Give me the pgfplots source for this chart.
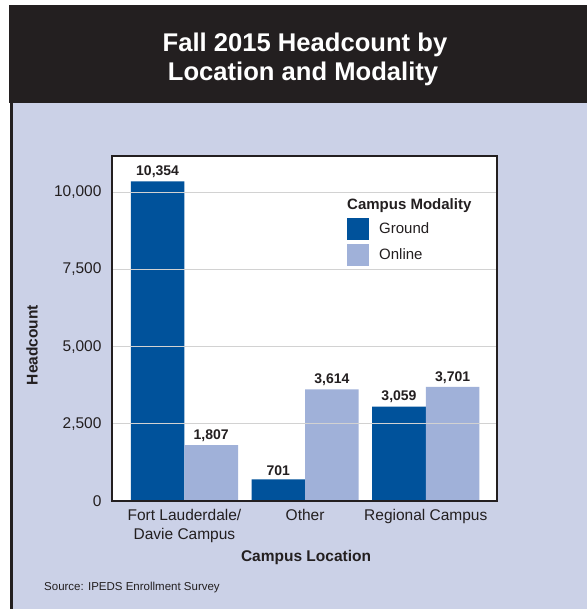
\documentclass[border=0pt]{standalone}
\usepackage{fontspec}
\setmainfont{Liberation Sans}
\usepackage{pgfplots}
\pgfplotsset{compat=1.18}
\definecolor{hdr}{HTML}{231F20}
\definecolor{lav}{HTML}{CBD1E7}
\definecolor{ground}{HTML}{00529B}
\definecolor{online}{HTML}{A0B1D9}
\definecolor{gridc}{HTML}{D2D2D2}
\begin{document}
\begin{tikzpicture}
\begin{scope}[shift={(-112pt,-108pt)}, x=1pt, y=1pt]
\fill[white] (0,0) rectangle (587,609);
\fill[lav] (12,0) rectangle (587,506);
\fill[hdr] (9,506) rectangle (587,604);
\fill[hdr] (10,0) rectangle (13.5,506);
\node[anchor=base, text=white, font=\fontsize{25.6}{29}\selectfont\bfseries, inner sep=0pt] at (305,557.3) {Fall 2015 Headcount by};
\node[anchor=base, text=white, font=\fontsize{25.6}{29}\selectfont\bfseries, inner sep=0pt] at (303,528) {Location and Modality};
\node[anchor=base west, inner sep=0pt, font=\fontsize{11.5}{14}\selectfont, text=hdr] at (44,19) {Source: IPEDS Enrollment Survey};
\end{scope}
\begin{axis}[
  scale only axis, width=385pt, height=345pt,
  ybar=0pt, bar width=53.6pt,
  xmin=-0.6, xmax=2.59, ymin=0, ymax=11180,
  xtick={0,1,2},
  xticklabels={{Fort Lauderdale/\\Davie Campus},Other,{Regional Campus}},
  ytick={0,2500,5000,7500,10000},
  scaled y ticks=false,
  /pgf/number format/.cd, fixed, precision=0, 1000 sep={,}, assume math mode=true, /pgfplots/.cd,
  major tick length=0pt,
  ymajorgrids, grid style={gridc, line width=1pt},
  axis line style={hdr, line width=2.2pt},
  axis background/.style={fill=white},
  axis on top,
  tick label style={font=\fontsize{15.5}{18.5}\selectfont, text=hdr},
  xticklabel style={align=center, yshift=-5pt},
  yticklabel style={xshift=-7pt},
  xlabel={Campus Location}, ylabel={Headcount},
  xlabel style={at={(axis description cs:0.504,-0.176)}, anchor=base, font=\fontsize{15.5}{18}\selectfont\bfseries, text=hdr},
  ylabel style={at={(axis description cs:-0.193,0.452)}, anchor=base, font=\fontsize{15.5}{18}\selectfont\bfseries, text=hdr},
  nodes near coords,
  every node near coord/.append style={font=\fontsize{14}{16}\selectfont\bfseries, text=hdr},
  legend style={at={(rel axis cs:0.6104,0.8203)}, anchor=north west, draw=none, fill=none, inner sep=0pt, row sep=4pt, font=\fontsize{15}{18}\selectfont, text=hdr, cells={anchor=west}, /tikz/every odd column/.append style={column sep=8pt}},
  legend image code/.code={\fill[#1] (0pt,-11pt) rectangle (22pt,11pt);},
]
\addplot[fill=ground, draw=none] coordinates {(0,10354) (1,701) (2,3059)};
\addlegendentry{Ground}
\addplot[fill=online, draw=none] coordinates {(0,1807) (1,3614) (2,3701)};
\addlegendentry{Online}
\node[anchor=base west, inner sep=0pt, font=\fontsize{15}{18}\selectfont\bfseries, text=hdr] at (rel axis cs:0.6104,0.8435) {Campus Modality};
\end{axis}
\pgfresetboundingbox
\path[use as bounding box] (-112pt,-108pt) rectangle (475pt,501pt);
\end{tikzpicture}
\end{document}
